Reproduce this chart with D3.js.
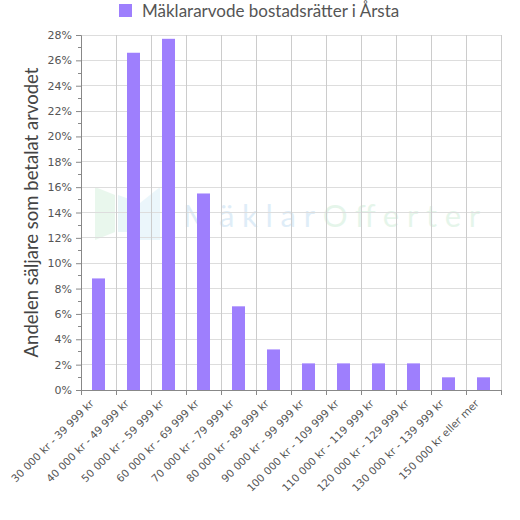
<!DOCTYPE html>
<html><head><meta charset="utf-8">
<script src="https://cdn.jsdelivr.net/npm/d3@7"></script>
<style>body{margin:0;background:#fff}</style>
</head><body><svg id="c" width="520" height="520"></svg>
<script>
const categories = ["30 000 kr - 39 999 kr","40 000 kr - 49 999 kr","50 000 kr - 59 999 kr","60 000 kr - 69 999 kr","70 000 kr - 79 999 kr","80 000 kr - 89 999 kr","90 000 kr - 99 999 kr","100 000 kr - 109 999 kr","110 000 kr - 119 999 kr","120 000 kr - 129 999 kr","130 000 kr - 139 999 kr","150 000 kr eller mer"];
const values = [8.8, 26.6, 27.7, 15.5, 6.6, 3.2, 2.1, 2.1, 2.1, 2.1, 1.0, 1.0];
const yTicks = [0,2,4,6,8,10,12,14,16,18,20,22,24,26,28];
const seriesName = "Mäklararvode bostadsrätter i Årsta";
const yTitle = "Andelen säljare som betalat arvodet";

const svg = d3.select("#c");
const m = {l:81, r:501, t:35, b:390};
const x = d3.scaleBand().domain(categories).range([m.l, m.r]);
const y = d3.scaleLinear().domain([0,28]).range([m.b, m.t]);
const font = "DejaVu Sans, sans-serif";

// watermark
const wm = svg.append("g").attr("opacity", 0.17);
wm.append("polygon").attr("points","95,187 115,195 115,232 95,240").attr("fill","#7fd39a");
wm.append("polygon").attr("points","118,195 140,203 140,232 118,232").attr("fill","#7fcfd8");
wm.append("polygon").attr("points","140,203 160,187 160,240 140,240").attr("fill","#8fd0e8");
const wt = wm.append("text").attr("x",183).attr("y",227).attr("font-family","Lato, sans-serif").attr("font-size",31)
  .attr("textLength",297).attr("lengthAdjust","spacing");
wt.append("tspan").attr("fill","#4a9ad8").text("Mäklar");
wt.append("tspan").attr("fill","#6cc98a").text("Offerter");

// horizontal grid
svg.append("g").selectAll("line").data(yTicks).join("line")
  .attr("x1", m.l).attr("x2", m.r).attr("y1", d=>y(d)).attr("y2", d=>y(d))
  .attr("stroke","#ddd").attr("stroke-width",1).attr("shape-rendering","crispEdges");
// vertical grid
const bounds = categories.map(c=>x(c)).concat([m.r]);
svg.append("g").selectAll("line").data(bounds.slice(1)).join("line")
  .attr("x1", d=>d).attr("x2", d=>d).attr("y1", m.t).attr("y2", m.b)
  .attr("stroke","#ccc").attr("stroke-width",1).attr("shape-rendering","crispEdges");

// bars
const bw = 13;
svg.append("g").selectAll("rect").data(values).join("rect")
  .attr("x",(d,i)=>x(categories[i]) + x.bandwidth()/2 - bw/2)
  .attr("width", bw)
  .attr("y", d=>y(d)).attr("height", d=>y(0)-y(d))
  .attr("fill","#9e7ffd");

// y axis
const ya = svg.append("g").attr("transform",`translate(${m.l},0)`)
  .call(d3.axisLeft(y).tickValues(yTicks).tickFormat(d=>d+"%").tickSize(5).tickPadding(4));
ya.selectAll("line").attr("stroke","#888");
ya.select(".domain").attr("stroke","#888");
ya.selectAll("text").attr("font-family",font).attr("font-size",11).attr("fill","#555");
const minor = d3.range(1,28,2);
svg.append("g").selectAll("line").data(minor).join("line")
  .attr("x1", m.l-3).attr("x2", m.l).attr("y1", d=>y(d)).attr("y2", d=>y(d))
  .attr("stroke","#888").attr("shape-rendering","crispEdges");

// x axis
svg.append("line").attr("x1",m.l).attr("x2",m.r).attr("y1",m.b+0.5).attr("y2",m.b+0.5).attr("stroke","#888");
svg.append("g").selectAll("line").data(bounds).join("line")
  .attr("x1", d=>d).attr("x2", d=>d).attr("y1", m.b).attr("y2", m.b+5)
  .attr("stroke","#888").attr("shape-rendering","crispEdges");
svg.append("g").selectAll("text").data(categories).join("text")
  .attr("transform", d=>`translate(${x(d)+x.bandwidth()/2-6},${m.b+12}) rotate(-45)`)
  .attr("text-anchor","end").attr("dominant-baseline","middle")
  .attr("font-family",font).attr("font-size",10.5).attr("fill","#555")
  .text(d=>d);

// y title
svg.append("text").attr("transform",`translate(38,${(m.t+m.b)/2}) rotate(-90)`)
  .attr("text-anchor","middle").attr("font-family","Lato, sans-serif").attr("font-size",18.5).attr("fill","#444")
  .text(yTitle);

// legend
svg.append("rect").attr("x",119).attr("y",4).attr("width",13).attr("height",13).attr("fill","#9e7ffd");
svg.append("text").attr("x",142).attr("y",17).attr("font-family","Lato, sans-serif").attr("font-size",17).attr("fill","#555").text(seriesName);
</script></body></html>
